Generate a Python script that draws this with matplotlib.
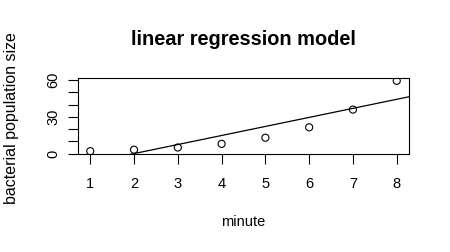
import numpy as np
import matplotlib
matplotlib.use("Agg")
import matplotlib.pyplot as plt

plt.rcParams['font.family'] = ['Liberation Sans', 'DejaVu Sans']

minute = [1, 2, 3, 4, 5, 6, 7, 8]
population = [2, 3.2, 5, 8, 13, 21.5, 36, 59.5]
y_ticks = [0, 10, 20, 30, 40, 50, 60]
y_labels = ['0', '', '', '30', '', '', '60']


def main():
    x = np.array(minute, dtype=float)
    y = np.array(population, dtype=float)

    W, H = 450, 252
    fig = plt.figure(figsize=(W / 100, H / 100), dpi=100)
    # axes box in pixels: left 78, right 409, top 78, bottom 154
    ax = fig.add_axes([78 / W, 1 - 154 / H, 331 / W, 76 / H])

    ax.scatter(x, y, s=26, facecolors='none', edgecolors='black', linewidths=0.8, zorder=3)

    # least squares fit, drawn across the whole panel like abline()
    slope, intercept = np.polyfit(x, y, 1)
    xr = 0.04 * (x.max() - x.min())
    yr = 0.04 * (y.max() - y.min())
    xlim = (x.min() - xr, x.max() + xr)
    ylim = (y.min() - yr, y.max() + yr)
    xx = np.array(xlim)
    ax.plot(xx, intercept + slope * xx, color='black', lw=0.9)

    ax.set_xlim(*xlim)
    ax.set_ylim(*ylim)
    ax.set_xticks(minute)
    ax.set_yticks(y_ticks)
    ax.set_yticklabels(y_labels, rotation=90, va='center')
    ax.tick_params(axis='x', length=7, width=0.8, pad=9.5, labelsize=10.5)
    ax.tick_params(axis='y', length=7, width=0.8, pad=5.5, labelsize=10.5)
    for s in ax.spines.values():
        s.set_linewidth(0.8)

    cx = (78 + 409) / 2 / W
    fig.text(cx, 1 - 45 / H, 'linear regression model', ha='center', va='baseline',
             fontsize=14.4, fontweight='bold')
    fig.text(cx, 1 - 226 / H, 'minute', ha='center', va='baseline', fontsize=10.5)
    fig.text(12 / W, 1 - 118 / H, 'bacterial population size', ha='center', va='center',
             rotation=90, fontsize=11.5)

    fig.savefig('out.png', dpi=100)


if __name__ == '__main__':
    main()
